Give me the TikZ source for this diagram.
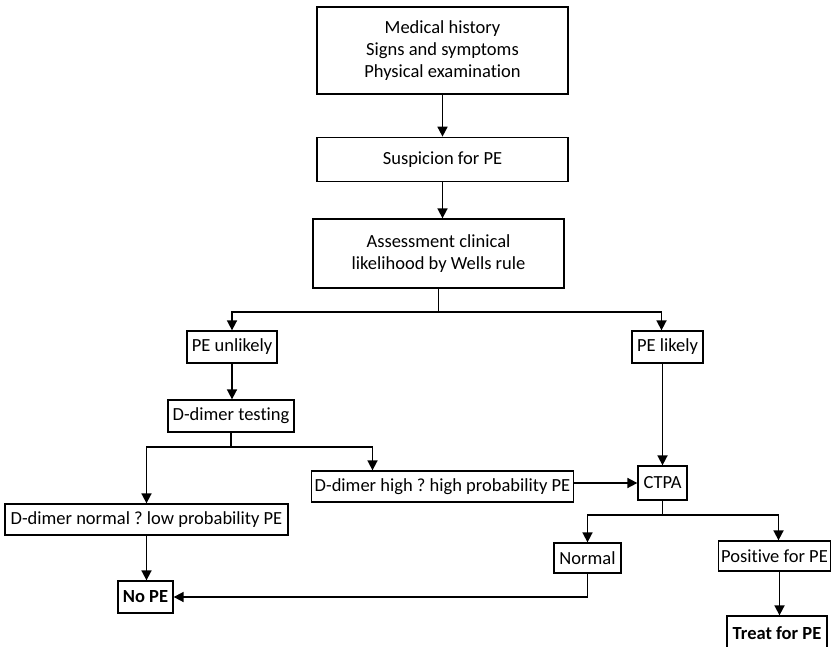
\documentclass[tikz,border=0pt]{standalone}
\usepackage{fontspec}
\setmainfont[Ligatures=NoCommon]{Carlito}
\frenchspacing
\usetikzlibrary{arrows.meta,positioning,calc}

\begin{document}
\begin{tikzpicture}[
    x=1pt, y=-1pt,
    box/.style={draw, line width=1.3pt, align=center, inner sep=3pt,
                minimum height=32pt, font=\fontsize{18.5}{22}\selectfont},
    boldbox/.style={box, font=\fontsize{18.5}{22}\selectfont\bfseries},
    arr/.style={-{Triangle[length=10pt,width=10pt]}, line width=1.7pt},
    conn/.style={line width=1.7pt},
  ]
  \useasboundingbox (0,0) rectangle (832,647);

  \node[box, minimum width=251pt, minimum height=87pt] (hist) at (442.5,50.5) {Medical history\\Signs and symptoms\\Physical examination};
  \node[box, minimum width=251pt, minimum height=44pt, below=42pt of hist] (susp) {Suspicion for PE};
  \node[box, minimum width=251pt, minimum height=69pt] (wells) at (438.5,253.5) {Assessment clinical\\likelihood by Wells rule};
  \node[box, minimum width=90pt] (unlikely) at (232,347) {PE unlikely};
  \node[box, minimum width=71pt] (likely) at (667.5,347) {PE likely};
  \node[box, minimum width=126pt] (ddtest) at (231,416) {D-dimer testing};
  \node[box, minimum width=283pt, minimum height=31pt] (ddnormal) at (146.5,519.5) {D-dimer normal ? low probability PE};
  \node[box, minimum width=261pt, minimum height=31pt] (ddhigh) at (442.5,486.5) {D-dimer high ? high probability PE};
  \node[box, minimum width=49pt, minimum height=34pt] (ctpa) at (662.5,483) {CTPA};
  \node[boldbox, minimum width=55pt] (nope) at (145.5,597) {No PE};
  \node[box, minimum width=67pt, minimum height=30pt] (normal) at (587.5,558) {Normal};
  \node[box, minimum width=111pt, minimum height=30pt] (positive) at (774.5,556) {Positive for PE};
  \node[boldbox, minimum width=100pt, minimum height=34pt] (treat) at (777,633) {Treat for PE};

  % split points
  \coordinate (split1) at ($(wells.south)+(0,23)$);
  \coordinate (split2) at ($(ddtest.south)+(0,14)$);
  \coordinate (split3) at ($(ctpa.south)+(0,14)$);

  \draw[arr] (hist) -- (susp);
  \draw[arr] (susp.south) -- (susp.south |- wells.north);
  \draw[conn] (wells.south) -- (split1);
  \draw[arr] (split1) -| (unlikely.north);
  \draw[arr] (split1) -| ([xshift=-6pt]likely.north);
  \draw[arr] (unlikely.south) -- (unlikely.south |- ddtest.north);
  \draw[conn] (ddtest.south) -- (split2);
  \draw[arr] (split2) -| (ddnormal.north);
  \draw[arr] (split2) -| ([xshift=-70pt]ddhigh.north);
  \draw[arr] (ctpa.west -| ddhigh.east) -- (ctpa.west);
  \draw[arr] (ctpa.north |- likely.south) -- (ctpa.north);
  \draw[arr] (ddnormal.south) -- (ddnormal.south |- nope.north);
  \draw[conn] (ctpa.south) -- (split3);
  \draw[arr] (split3) -| (normal.north);
  \draw[arr] (split3) -| ([xshift=4pt]positive.north);
  \draw[arr] (normal.south) |- (nope.east);
  \draw[arr] ([xshift=5pt]positive.south) -- ([xshift=5pt]positive.south |- treat.north);
\end{tikzpicture}
\end{document}
